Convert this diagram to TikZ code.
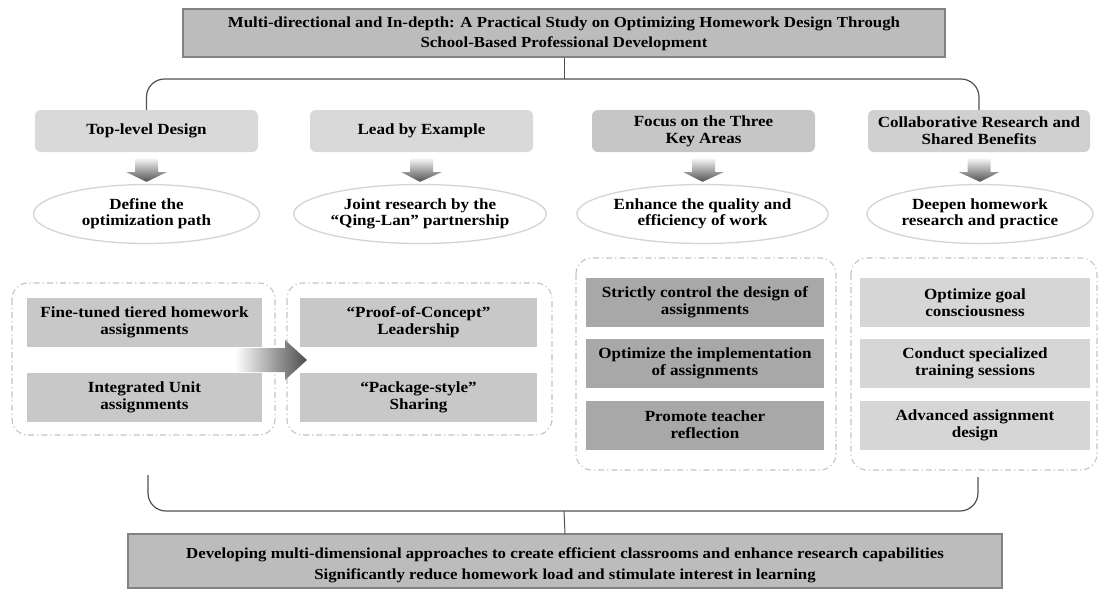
\documentclass[tikz,border=0pt]{standalone}
\usepackage{fontspec}
\setmainfont[FakeStretch=1.1]{Liberation Serif}
\usetikzlibrary{shapes.geometric}
\definecolor{titlefill}{RGB}{188,188,188}
\definecolor{titleline}{RGB}{130,130,130}
\definecolor{headA}{RGB}{217,217,217}
\definecolor{headB}{RGB}{198,198,198}
\definecolor{headC}{RGB}{208,208,208}
\definecolor{itemA}{RGB}{200,200,200}
\definecolor{itemB}{RGB}{168,168,168}
\definecolor{itemC}{RGB}{214,214,214}
\definecolor{ovalline}{RGB}{212,212,212}
\definecolor{groupline}{RGB}{195,195,195}
\definecolor{bracketline}{RGB}{80,80,80}
\begin{document}
\begin{tikzpicture}[x=1pt,y=-1pt,
  banner/.style={draw=titleline, line width=1.2pt, fill=titlefill, align=center,
    font=\fontsize{15.3}{20}\selectfont\bfseries, inner sep=0pt},
  headbox/.style={rounded corners=6pt, minimum width=223pt, minimum height=42pt,
    align=center, inner sep=0pt, font=\fontsize{15.5}{17}\selectfont\bfseries},
  oval/.style={ellipse, draw=ovalline, line width=1.3pt, fill=white, minimum width=226pt,
    minimum height=59pt, inner sep=0pt, align=center, font=\fontsize{15.5}{16}\selectfont\bfseries},
  itembox/.style={minimum height=49pt, inner sep=0pt, align=center,
    font=\fontsize{15.5}{17}\selectfont\bfseries},
  group/.style={draw=groupline, line width=1.1pt, rounded corners=16pt,
    dash pattern=on 6pt off 3pt on 1.2pt off 3pt},
  bracket/.style={draw=bracketline, line width=1.2pt, rounded corners=18pt},
  link/.style={draw=bracketline, line width=1pt}
]
\useasboundingbox (0,0) rectangle (1101,590);

% heading
\node[banner, minimum width=762pt, minimum height=48pt] (title) at (564,33)
  {\rule{0pt}{12pt}Multi-directional and In-depth: A Practical Study on Optimizing Homework Design Through\\
   School-Based Professional Development};

% four strands
\node[headbox, fill=headA] (h1) at (146.5,131) {Top-level Design};
\node[headbox, fill=headA] (h2) at (421.5,131) {Lead by Example};
\node[headbox, fill=headB] (h3) at (703.5,131) {Focus on the Three\\Key Areas};
\node[headbox, fill=headC, minimum width=222pt] (h4) at (979,131) {Collaborative Research and\\Shared Benefits};

% fork from the heading to the strands
\coordinate (fork) at (564,79);
\draw[link] (title.south) -- (fork);
\draw[bracket] (h1.north) -- (h1.north |- fork) -- (h4.north |- fork) -- (h4.north);

% goals
\node[oval] (o1) at (146.5,214) {Define the\\optimization path};
\node[oval] (o2) at (420,214) {Joint research by the\\``Qing-Lan'' partnership};
\node[oval] (o3) at (702.5,214) {Enhance the quality and\\efficiency of work};
\node[oval] (o4) at (980,214) {Deepen homework\\research and practice};

% shaded down arrows between strand and goal
\foreach \h/\o in {h1/o1,h2/o2,h3/o3,h4/o4}{
  \path (\h.south) ++(0,5) coordinate (\h top);
  \shade[top color=white, bottom color=black!68]
    ([shift={(-11.5,0)}]\h top) -- ([shift={(11.5,0)}]\h top)
    -- ([shift={(11.5,15)}]\h top) -- ([shift={(20,15)}]\h top)
    -- ([shift={(0,-2)}]\o.north) -- ([shift={(-20,15)}]\h top)
    -- ([shift={(-11.5,15)}]\h top) -- cycle;
}

% dash-dot groups
\draw[group] (12,283) rectangle (275,435);
\draw[group] (287,283) rectangle (552,435);
\draw[group] (576,258) rectangle (836,470);
\draw[group] (851,258) rectangle (1097,470);

% measures
\node[itembox, fill=itemA, minimum width=235pt] (a1) at (144.5,322.5) {Fine-tuned tiered homework\\assignments};
\node[itembox, fill=itemA, minimum width=235pt] (a2) at (144.5,397.5) {Integrated Unit\\assignments};
\node[itembox, fill=itemA, minimum width=237pt] (b1) at (418.5,322.5) {``Proof-of-Concept''\\Leadership};
\node[itembox, fill=itemA, minimum width=237pt] (b2) at (418.5,397.5) {``Package-style''\\Sharing};
\node[itembox, fill=itemB, minimum width=238pt] (c1) at (705,302.5) {Strictly control the design of\\assignments};
\node[itembox, fill=itemB, minimum width=238pt] (c2) at (705,363.5) {Optimize the implementation\\of assignments};
\node[itembox, fill=itemB, minimum width=238pt] (c3) at (705,425) {Promote teacher\\reflection};
\node[itembox, fill=itemC, minimum width=230pt] (d1) at (975,302.5) {Optimize goal\\consciousness};
\node[itembox, fill=itemC, minimum width=230pt] (d2) at (975,363.5) {Conduct specialized\\training sessions};
\node[itembox, fill=itemC, minimum width=230pt] (d3) at (975,425) {Advanced assignment\\design};

% shaded arrow from the first group to the second
\coordinate (ra) at (235,360);
\coordinate (rb) at (307,360);
\shade[left color=white, right color=black!70]
  ([shift={(0,-12)}]ra) -- ([shift={(-22,-12)}]rb) -- ([shift={(-22,-20)}]rb)
  -- (rb) -- ([shift={(-22,20)}]rb) -- ([shift={(-22,12)}]rb)
  -- ([shift={(0,12)}]ra) -- cycle;

% outcome
\node[banner, minimum width=874pt, minimum height=54pt, font=\fontsize{15.3}{21}\selectfont\bfseries] (res) at (565,561)
  {\rule{0pt}{19pt}Developing multi-dimensional approaches to create efficient classrooms and enhance research capabilities\\
   Significantly reduce homework load and stimulate interest in learning};

% gathering bracket
\coordinate (gl) at (148,475);
\coordinate (gr) at (978,477);
\coordinate (join) at (564,511);
\draw[bracket] (gl) -- (gl |- join) -- (gr |- join) -- (gr);
\draw[link] (join) -- (res.north);
\end{tikzpicture}
\end{document}
